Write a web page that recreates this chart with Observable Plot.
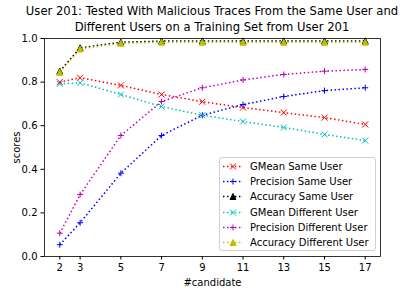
<!DOCTYPE html>
<html><head><meta charset="utf-8">
<script src="https://cdn.jsdelivr.net/npm/d3@7"></script>
<script src="https://cdn.jsdelivr.net/npm/@observablehq/plot@0.6"></script>
<style>
body{margin:0;background:#fff;font-family:"DejaVu Sans",sans-serif;}
#wrap{position:relative;width:412px;height:293px;overflow:hidden;}
#title{position:absolute;left:0;top:4px;width:424px;text-align:center;font-size:11.6px;line-height:15.5px;color:#000;}
#legend{position:absolute;left:219px;top:157px;width:155px;height:92px;border:1px solid #d0d0d0;border-radius:3px;background:rgba(255,255,255,0.8);font-size:10px;}
.row{position:absolute;left:0;height:15px;display:flex;align-items:center;}
.row span{margin-left:7px;white-space:nowrap;}
</style></head>
<body><div id="wrap"><div id="plot"></div><div id="title"></div><div id="legend"></div></div>
<script>
const candidates = [2, 3, 5, 7, 9, 11, 13, 15, 17];
const gmeanSame     = [0.800, 0.820, 0.785, 0.743, 0.710, 0.683, 0.660, 0.637, 0.606];
const precisionSame = [0.054, 0.155, 0.382, 0.555, 0.648, 0.697, 0.734, 0.761, 0.774];
const accuracySame  = [0.850, 0.957, 0.983, 0.988, 0.989, 0.989, 0.989, 0.989, 0.989];
const gmeanDiff     = [0.792, 0.797, 0.743, 0.688, 0.648, 0.619, 0.592, 0.560, 0.532];
const precisionDiff = [0.107, 0.284, 0.555, 0.711, 0.774, 0.810, 0.835, 0.850, 0.858];
const accuracyDiff  = [0.845, 0.952, 0.978, 0.983, 0.983, 0.983, 0.983, 0.983, 0.983];
const seriesNames = ["GMean Same User","Precision Same User","Accuracy Same User","GMean Different User","Precision Different User","Accuracy Different User"];
const seriesValues = [gmeanSame, precisionSame, accuracySame, gmeanDiff, precisionDiff, accuracyDiff];
const seriesColors = ["#ff0000","#0000ff","#000000","#00bfbf","#bf00bf","#bfbf00"];
const seriesMarkers = ["x","+","^","x","+","^"];
const xTicks = [2, 3, 5, 7, 9, 11, 13, 15, 17];
const yTicks = [0, 0.2, 0.4, 0.6, 0.8, 1.0];
const titleLines = ["User 201: Tested With Malicious Traces From the Same User and","Different Users on a Training Set from User 201"];
const xLabel = "#candidate";
const yLabel = "scores";

const symX = {draw(c){c.moveTo(-3,-3);c.lineTo(3,3);c.moveTo(-3,3);c.lineTo(3,-3);}};
const symPlus = {draw(c){c.moveTo(-3,0);c.lineTo(3,0);c.moveTo(0,-3);c.lineTo(0,3);}};
const symTri = {draw(c){c.moveTo(0,-3);c.lineTo(-3,3);c.lineTo(3,3);c.closePath();}};
const symOf = m => m === "x" ? symX : m === "+" ? symPlus : symTri;

const marks = [];
seriesNames.forEach((name, i) => {
  const data = candidates.map((c, j) => ({x: c, y: seriesValues[i][j]}));
  const col = seriesColors[i];
  marks.push(Plot.line(data, {x: "x", y: "y", stroke: col, strokeWidth: 1.5, strokeDasharray: "1.5,2.475", strokeLinecap: "butt"}));
  const filled = seriesMarkers[i] === "^";
  marks.push(Plot.dot(data, {x: "x", y: "y", symbol: symOf(seriesMarkers[i]), r: 3, stroke: col, strokeWidth: 1, fill: filled ? col : "none"}));
});

const chart = Plot.plot({
  width: 412, height: 293,
  marginLeft: 44, marginRight: 32, marginTop: 38, marginBottom: 37,
  style: {fontFamily: "DejaVu Sans", fontSize: "10px", color: "#000", background: "#fff"},
  x: {domain: [1.25, 17.75]},
  y: {domain: [0, 1]},
  marks: [
    Plot.axisX({ticks: xTicks, tickSize: 3.5, tickPadding: 3.5, label: xLabel, labelAnchor: "center", labelArrow: "none", labelOffset: 29, fontSize: 10}),
    Plot.axisY({ticks: yTicks, tickFormat: d => d.toFixed(1), tickSize: 3.5, tickPadding: 3.5, label: yLabel, labelAnchor: "center", labelArrow: "none", labelOffset: 32, fontSize: 10}),
    ...marks,
    Plot.frame({stroke: "#000", strokeWidth: 0.8})
  ]
});
document.getElementById("plot").appendChild(chart);

document.getElementById("title").innerHTML = titleLines.join("<br>");

const leg = d3.select("#legend");
seriesNames.forEach((name, i) => {
  const row = leg.append("div").attr("class", "row").style("top", (1 + i * 15.2) + "px").style("left", "3px");
  const s = row.append("svg").attr("width", 20).attr("height", 15);
  s.append("line").attr("x1", 0).attr("x2", 20).attr("y1", 7.5).attr("y2", 7.5)
    .attr("stroke", seriesColors[i]).attr("stroke-width", 1.5).attr("stroke-dasharray", "1.5,2.475");
  const p = d3.path(); symOf(seriesMarkers[i]).draw(p);
  s.append("path").attr("d", p.toString()).attr("transform", "translate(10,7.5)")
    .attr("stroke", seriesColors[i]).attr("stroke-width", 1)
    .attr("fill", seriesMarkers[i] === "^" ? seriesColors[i] : "none");
  row.append("span").text(name);
});
</script></body></html>
